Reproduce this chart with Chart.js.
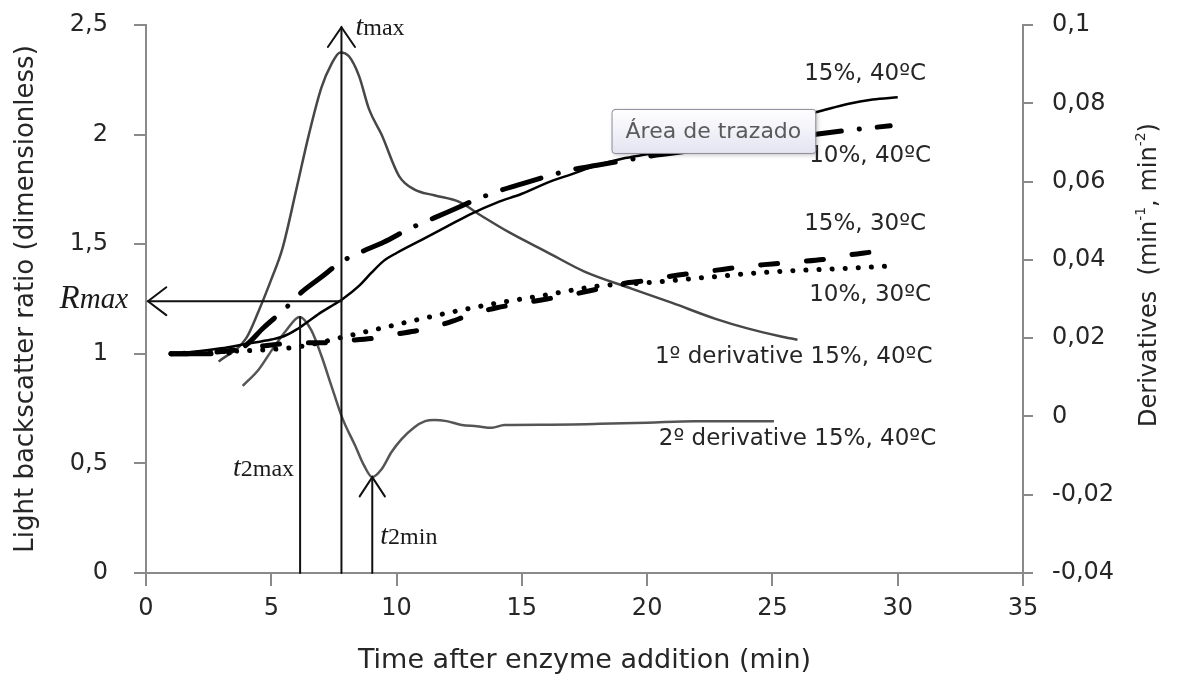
<!DOCTYPE html>
<html>
<head>
<meta charset="utf-8">
<script src="https://cdn.jsdelivr.net/npm/chart.js@4.4.1/dist/chart.umd.min.js"></script>
<style>
  html, body { margin: 0; padding: 0; background: #fff; }
  #chart { display: block; }
</style>
</head>
<body>
<canvas id="chart" width="1177" height="680"></canvas>
<script>
// light backscatter ratio (left axis)
const time15_40 = [1, 2, 3, 4, 5, 5.5, 6, 6.5, 7, 7.5, 7.85, 8.5, 9, 9.5, 10, 11, 12, 13, 14, 15, 16, 17, 18, 19, 20, 21, 22, 23, 24, 25, 26, 27, 28, 29, 30];
const ratio15_40 = [1.0, 1.01, 1.025, 1.045, 1.065, 1.08, 1.11, 1.15, 1.19, 1.225, 1.25, 1.31, 1.37, 1.425, 1.46, 1.52, 1.58, 1.64, 1.69, 1.73, 1.78, 1.82, 1.86, 1.89, 1.91, 1.93, 1.96, 1.99, 2.02, 2.05, 2.08, 2.11, 2.14, 2.16, 2.17];

const time10_40 = [1, 2, 3, 3.5, 4, 4.7, 5.5, 6.2, 7, 7.8, 8.5, 9.5, 10.5, 11.5, 12.5, 13.1, 14, 15, 16, 17, 18, 19, 20, 22, 24, 26, 28, 29.7];
const ratio10_40 = [1.0, 1.0, 1.0, 1.01, 1.04, 1.12, 1.2, 1.28, 1.35, 1.42, 1.46, 1.51, 1.57, 1.62, 1.67, 1.70, 1.74, 1.775, 1.81, 1.84, 1.86, 1.88, 1.90, 1.93, 1.96, 1.99, 2.02, 2.04];

const time15_30 = [1, 2, 3, 4, 5, 6, 7, 8, 9, 10, 11, 12, 13, 14, 15, 16, 17, 18, 19, 20, 21, 22, 23, 24, 25, 26, 27, 28, 29];
const ratio15_30 = [1.0, 1.0, 1.01, 1.025, 1.04, 1.05, 1.05, 1.06, 1.07, 1.09, 1.11, 1.14, 1.18, 1.21, 1.23, 1.25, 1.27, 1.295, 1.32, 1.335, 1.355, 1.37, 1.385, 1.40, 1.41, 1.42, 1.43, 1.45, 1.465];

const time10_30 = [1, 3, 5, 6.25, 8, 9.5, 11, 12.6, 14.2, 15.8, 17, 18.1, 19.5, 20.6, 22.5, 24.5, 26, 28, 29.6];
const ratio10_30 = [1.0, 1.01, 1.02, 1.035, 1.08, 1.12, 1.16, 1.20, 1.235, 1.265, 1.29, 1.31, 1.32, 1.33, 1.35, 1.37, 1.38, 1.39, 1.40];

// derivatives of the 15%, 40ºC curve (right axis)
const timeD1 = [2.9, 4.0, 4.5, 5.0, 5.45, 6.0, 6.5, 7.0, 7.4, 7.75, 8.1, 8.5, 8.9, 9.4, 10.1, 10.7, 11.5, 12.5, 13.4, 14.5, 16.0, 17.5, 19.4, 21.0, 22.7, 24.0, 25.3, 26.0];
const deriv1 = [0.014, 0.020, 0.027, 0.035, 0.043, 0.058, 0.072, 0.084, 0.090, 0.093, 0.092, 0.087, 0.0785, 0.072, 0.0614, 0.058, 0.0565, 0.0548, 0.0512, 0.047, 0.042, 0.037, 0.0326, 0.029, 0.025, 0.0225, 0.0205, 0.0196];

const timeD2 = [3.86, 4.5, 5.05, 5.6, 6.13, 6.6, 7.0, 7.4, 7.84, 8.35, 8.7, 9.03, 9.4, 9.8, 10.2, 10.7, 11.14, 11.5, 12.0, 12.6, 13.2, 13.8, 14.3, 16, 18.1, 20, 21.9, 25.06];
const deriv2 = [0.0078, 0.012, 0.0172, 0.022, 0.0254, 0.022, 0.0155, 0.0078, -0.0005, -0.0075, -0.0125, -0.0155, -0.0135, -0.0091, -0.0058, -0.0028, -0.0012, -0.0009, -0.0012, -0.0022, -0.0025, -0.0029, -0.0022, -0.0021, -0.0019, -0.0016, -0.0012, -0.0012];

const seriesNames = ['15%, 40ºC', '10%, 40ºC', '15%, 30ºC', '10%, 30ºC', '1º derivative 15%, 40ºC', '2º derivative 15%, 40ºC'];

// characteristic points
const tMax = 7.8, tMaxTop = 2.49, rMax = 1.24;
const t2Max = 6.15, d2Max = 0.0254;
const t2Min = 9.03, d2Min = -0.0155;

const textColor = '#262626';
const axisColor = '#8a8a8a';

function points(xs, ys) {
    return xs.map((x, i) => ({ x: x, y: ys[i] }));
}

function comma(v) {
    return String(Math.round(v * 100) / 100).replace('.', ',');
}

function seg(ctx, x1, y1, x2, y2) {
    ctx.beginPath();
    ctx.moveTo(x1, y1);
    ctx.lineTo(x2, y2);
    ctx.stroke();
}

// open chevron arrow head, dir is the angle the arrow points to
function head(ctx, x, y, dir, len, spread) {
    const a1 = dir + Math.PI - spread, a2 = dir + Math.PI + spread;
    ctx.beginPath();
    ctx.moveTo(x + Math.cos(a1) * len, y + Math.sin(a1) * len);
    ctx.lineTo(x, y);
    ctx.lineTo(x + Math.cos(a2) * len, y + Math.sin(a2) * len);
    ctx.stroke();
}

// serif label like "t2max": italic first char, rest upright
function serifLabel(ctx, first, rest, x, y, size, align, allItalic) {
    ctx.font = 'italic ' + size + 'px "Liberation Serif"';
    const w1 = ctx.measureText(first).width;
    ctx.font = (allItalic ? 'italic ' : '') + (size - 4) + 'px "Liberation Serif"';
    const w2 = ctx.measureText(rest).width;
    let left = align === 'right' ? x - w1 - w2 : x;
    ctx.textAlign = 'left';
    ctx.textBaseline = 'alphabetic';
    ctx.font = 'italic ' + size + 'px "Liberation Serif"';
    ctx.fillText(first, left, y);
    ctx.font = (allItalic ? 'italic ' : '') + (size - 4) + 'px "Liberation Serif"';
    ctx.fillText(rest, left + w1, y);
}

// keep the plot area where the reference has it
function noLabelPadding(s) {
    s.paddingTop = 0;
    s.paddingBottom = 0;
}

const overlay = {
    id: 'overlay',
    afterDatasetsDraw(chart) {
        const { ctx, chartArea, scales: { x, y, y2 } } = chart;
        ctx.save();
        ctx.strokeStyle = '#111';
        ctx.lineWidth = 2;
        ctx.lineCap = 'round';

        // tmax line with arrow up, Rmax arrow to the left
        const px = x.getPixelForValue(tMax);
        const pTop = y.getPixelForValue(tMaxTop);
        seg(ctx, px, y.getPixelForValue(0), px, pTop);
        head(ctx, px, pTop, -Math.PI / 2, 24, 0.6);
        const pr = y.getPixelForValue(rMax);
        seg(ctx, px, pr, x.getPixelForValue(0) + 2, pr);
        head(ctx, x.getPixelForValue(0) + 2, pr, Math.PI, 23, 0.65);

        // t2max and t2min
        const p2 = x.getPixelForValue(t2Max);
        seg(ctx, p2, y.getPixelForValue(0), p2, y2.getPixelForValue(d2Max));
        const p3 = x.getPixelForValue(t2Min);
        const p3Top = y2.getPixelForValue(d2Min);
        seg(ctx, p3, y.getPixelForValue(0), p3, p3Top);
        head(ctx, p3, p3Top, -Math.PI / 2, 23, 0.58);

        // serif annotation labels
        ctx.fillStyle = '#1a1a1a';
        serifLabel(ctx, 't', 'max', px + 14, pTop + 8, 28, 'left', false);
        serifLabel(ctx, 'R', 'max', x.getPixelForValue(0) - 18, pr + 7, 33, 'right', true);
        serifLabel(ctx, 't', '2max', p2 - 6, y.getPixelForValue(0.5) + 13, 28, 'right', false);
        serifLabel(ctx, 't', '2min', p3 + 8, y.getPixelForValue(0.14) + 2, 28, 'left', false);

        // series labels
        ctx.fillStyle = textColor;
        ctx.font = '23px "DejaVu Sans"';
        ctx.textAlign = 'center';
        ctx.textBaseline = 'middle';
        const labelPos = [[28.7, 2.277], [28.9, 1.90], [28.7, 1.59], [28.9, 1.27], [25.85, 0.985], [26.0, 0.611]];
        seriesNames.forEach((name, i) => {
            ctx.fillText(name, x.getPixelForValue(labelPos[i][0]), y.getPixelForValue(labelPos[i][1]));
        });

        // right axis title, reading upwards, with superscripts
        ctx.save();
        ctx.translate(y2.right - 27, (chartArea.top + chartArea.bottom) / 2 - 24);
        ctx.rotate(-Math.PI / 2);
        const parts = [['Derivatives  (min', 0], ['-1', 1], [', min', 0], ['-2', 1], [')', 0]];
        let total = 0;
        parts.forEach(p => {
            ctx.font = p[1] ? '14px "DejaVu Sans"' : '24px "DejaVu Sans"';
            total += ctx.measureText(p[0]).width;
        });
        let cx = -total / 2;
        ctx.textAlign = 'left';
        ctx.textBaseline = 'middle';
        parts.forEach(p => {
            ctx.font = p[1] ? '14px "DejaVu Sans"' : '24px "DejaVu Sans"';
            ctx.fillText(p[0], cx, p[1] ? -9 : 0);
            cx += ctx.measureText(p[0]).width;
        });
        ctx.restore();

        // the Excel hover box left in the screenshot
        const bx = x.getPixelForValue(18.58), by = y.getPixelForValue(2.117);
        ctx.font = '22px "DejaVu Sans"';
        const bw = ctx.measureText('Área de trazado').width + 28, bh = 44;
        ctx.save();
        ctx.shadowColor = 'rgba(0,0,0,0.25)';
        ctx.shadowBlur = 4;
        ctx.shadowOffsetX = 2;
        ctx.shadowOffsetY = 2;
        const grad = ctx.createLinearGradient(0, by, 0, by + bh);
        grad.addColorStop(0, '#ffffff');
        grad.addColorStop(1, '#e4e4f2');
        ctx.fillStyle = grad;
        ctx.beginPath();
        ctx.roundRect(bx, by, bw, bh, 3);
        ctx.fill();
        ctx.restore();
        ctx.strokeStyle = '#8e8e9c';
        ctx.lineWidth = 1;
        ctx.beginPath();
        ctx.roundRect(bx + 0.5, by + 0.5, bw, bh, 3);
        ctx.stroke();
        ctx.fillStyle = '#5a5a5a';
        ctx.textAlign = 'left';
        ctx.textBaseline = 'middle';
        ctx.fillText('Área de trazado', bx + 14, by + bh / 2 + 1);

        ctx.restore();
    }
};

const data = {
    datasets: [
        { label: seriesNames[0], data: points(time15_40, ratio15_40), yAxisID: 'y',
          borderColor: '#000', borderWidth: 2.5 },
        { label: seriesNames[1], data: points(time10_40, ratio10_40), yAxisID: 'y',
          borderColor: '#000', borderWidth: 5, borderDash: [40, 18, 0.1, 18], borderCapStyle: 'round' },
        { label: seriesNames[2], data: points(time15_30, ratio15_30), yAxisID: 'y',
          borderColor: '#000', borderWidth: 5, borderDash: [17, 29], borderCapStyle: 'round' },
        { label: seriesNames[3], data: points(time10_30, ratio10_30), yAxisID: 'y',
          borderColor: '#000', borderWidth: 5, borderDash: [0.1, 13], borderCapStyle: 'round' },
        { label: seriesNames[4], data: points(timeD1, deriv1), yAxisID: 'y2',
          borderColor: '#474747', borderWidth: 2.5 },
        { label: seriesNames[5], data: points(timeD2, deriv2), yAxisID: 'y2',
          borderColor: '#555', borderWidth: 2.5 }
    ]
};

const config = {
    type: 'scatter',
    data: data,
    options: {
        responsive: false,
        animation: false,
        events: [],
        datasets: {
            scatter: { showLine: true, pointRadius: 0, cubicInterpolationMode: 'monotone', fill: false }
        },
        layout: { padding: { top: 25, left: 0, right: 0, bottom: 0 } },
        plugins: { legend: { display: false }, tooltip: { enabled: false } },
        scales: {
            x: {
                type: 'linear', min: 0, max: 35,
                afterFit: s => { s.height = 107; },
                ticks: { stepSize: 5, color: textColor, padding: 8, font: { size: 24 } },
                grid: { drawOnChartArea: false, tickLength: 13, color: axisColor, lineWidth: 2 },
                border: { color: axisColor, width: 2 },
                title: { display: true, text: 'Time after enzyme addition (min)', color: textColor,
                         font: { size: 27 }, padding: { top: 0, bottom: 3 } }
            },
            y: {
                position: 'left', min: 0, max: 2.5,
                afterFit: s => { s.width = 146; noLabelPadding(s); },
                ticks: { stepSize: 0.5, color: textColor, padding: 26, font: { size: 24 }, callback: v => comma(v) },
                grid: { drawOnChartArea: false, tickLength: 12, color: axisColor, lineWidth: 2 },
                border: { color: axisColor, width: 2 },
                title: { display: true, text: 'Light backscatter ratio (dimensionless)', color: textColor,
                         font: { size: 26 }, padding: { top: 11, bottom: 0 } }
            },
            y2: {
                position: 'right', min: -0.04, max: 0.1,
                afterFit: s => { s.width = 154; noLabelPadding(s); },
                ticks: { stepSize: 0.02, color: textColor, padding: 19, font: { size: 24 }, callback: v => comma(v) },
                grid: { drawOnChartArea: false, tickLength: 10, color: axisColor, lineWidth: 2 },
                border: { color: axisColor, width: 2 }
            }
        }
    },
    plugins: [overlay]
};

Chart.defaults.font.family = '"DejaVu Sans"';

window.addEventListener('DOMContentLoaded', () => {
    new Chart(document.getElementById('chart'), config);
});
</script>
</body>
</html>
